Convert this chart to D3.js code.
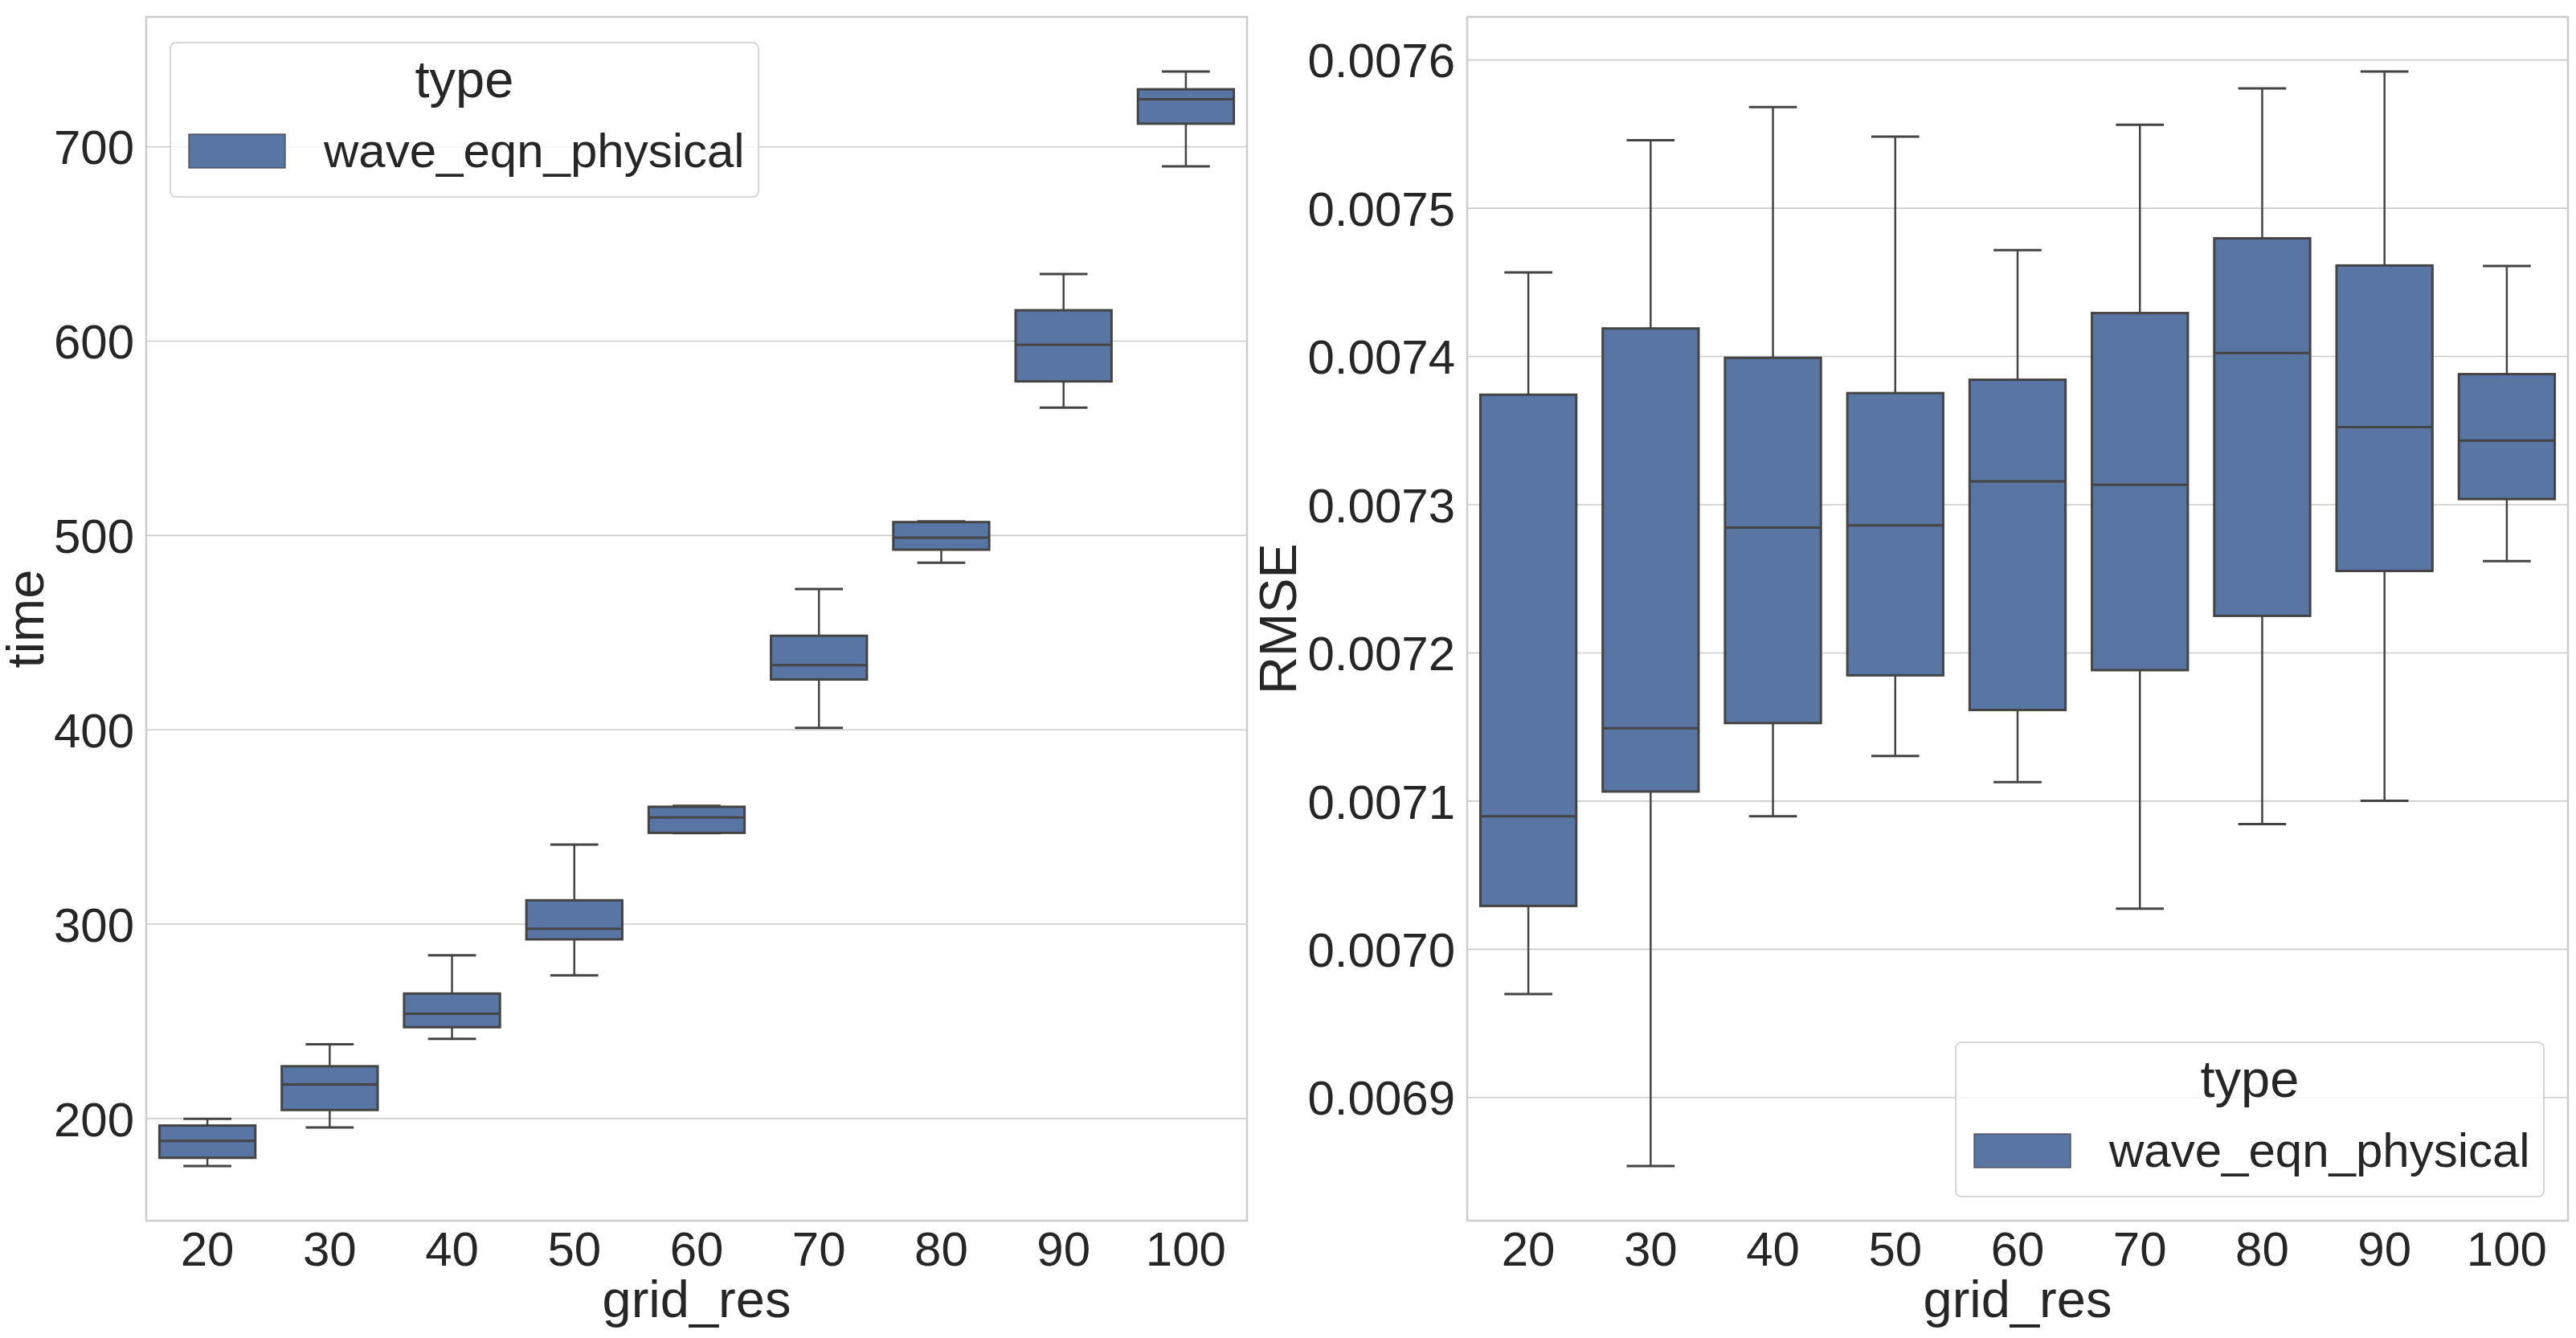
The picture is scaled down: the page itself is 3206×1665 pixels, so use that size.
<!DOCTYPE html>
<html>
<head>
<meta charset="utf-8">
<script src="https://cdnjs.cloudflare.com/ajax/libs/d3/7.8.5/d3.min.js"></script>
<style>
  body { margin: 0; background: #ffffff; }
  text { font-family: "Liberation Sans", Arial, sans-serif; fill: #262626; }
</style>
</head>
<body>
<div id="chart"></div>
<script>
// categories on the x axis
var gridRes = ["20", "30", "40", "50", "60", "70", "80", "90", "100"];

// time box stats (lower whisker, q1, median, q3, upper whisker)
var timeLow    = [175.4, 195.2, 240.8, 273.5, 346.6, 400.8, 485.8, 565.6, 689.7];
var timeQ1     = [179.6, 204.2, 246.8, 292.0, 346.8, 425.7, 492.5, 579.1, 711.7];
var timeMedian = [188.3, 217.3, 253.7, 297.4, 354.7, 433.1, 498.7, 598.0, 724.3];
var timeQ3     = [196.2, 226.7, 264.1, 312.1, 360.2, 448.2, 506.7, 615.7, 729.4];
var timeHigh   = [199.7, 238.0, 283.8, 340.8, 360.7, 472.2, 507.1, 634.3, 738.5];
var timeTicks  = [200, 300, 400, 500, 600, 700];

// RMSE box stats
var rmseLow    = [0.0069696, 0.0068536, 0.0070895, 0.0071302, 0.0071126, 0.0070272, 0.0070843, 0.0071000, 0.0072616];
var rmseQ1     = [0.0070290, 0.0071062, 0.0071524, 0.0071846, 0.0071612, 0.0071881, 0.0072247, 0.0072550, 0.0073035];
var rmseMedian = [0.0070895, 0.0071489, 0.0072843, 0.0072858, 0.0073154, 0.0073131, 0.0074020, 0.0073520, 0.0073430];
var rmseQ3     = [0.0073739, 0.0074186, 0.0073988, 0.0073750, 0.0073840, 0.0074290, 0.0074794, 0.0074611, 0.0073878];
var rmseHigh   = [0.0074564, 0.0075456, 0.0075680, 0.0075480, 0.0074715, 0.0075561, 0.0075805, 0.0075919, 0.0074607];
var rmseTicks  = [0.0069, 0.0070, 0.0071, 0.0072, 0.0073, 0.0074, 0.0075, 0.0076];

var seriesName = "wave_eqn_physical";
var legendTitle = "type";

// Chart Params
var svgWidth = 3206;
var svgHeight = 1665;
var boxFill = "#5875a4";
var boxLine = "#444444";
var gridColor = "#cccccc";

var svg = d3.select("#chart")
  .append("svg")
  .attr("width", svgWidth)
  .attr("height", svgHeight);

svg.append("rect")
  .attr("width", svgWidth)
  .attr("height", svgHeight)
  .attr("fill", "#ffffff");

function buildRows(low, q1, med, q3, high) {
  return gridRes.map(function(g, i) {
    return { grid_res: g, low: low[i], q1: q1[i], median: med[i], q3: q3[i], high: high[i] };
  });
}

// draws one panel (axes frame, grid, boxes, labels, legend)
function drawPanel(opts) {
  var width = opts.right - opts.left;
  var height = opts.bottom - opts.top;

  var g = svg.append("g")
    .attr("transform", `translate(${opts.left}, ${opts.top})`);

  var xBand = d3.scaleBand()
    .domain(gridRes)
    .range([0, width])
    .paddingInner(0)
    .paddingOuter(0);

  // matplotlib style 5% margin around the data
  var lo = d3.min(opts.rows, d => d.low);
  var hi = d3.max(opts.rows, d => d.high);
  var pad = (hi - lo) * 0.05;
  var yScale = d3.scaleLinear()
    .domain([lo - pad, hi + pad])
    .range([height, 0]);

  // horizontal grid
  var leftAxis = d3.axisLeft(yScale)
    .tickValues(opts.ticks)
    .tickSize(-width)
    .tickPadding(15)
    .tickFormat(opts.format);

  var yAxis = g.append("g").call(leftAxis);
  yAxis.select(".domain").remove();
  yAxis.selectAll(".tick line")
    .attr("stroke", gridColor)
    .attr("stroke-width", 1.6);
  yAxis.selectAll(".tick text")
    .style("font-size", "60px")
    .attr("fill", "#262626")
    .attr("dy", "0.36em");

  var bottomAxis = d3.axisBottom(xBand)
    .tickSize(0)
    .tickPadding(9);

  var xAxis = g.append("g")
    .attr("transform", `translate(0, ${height})`)
    .call(bottomAxis);
  xAxis.select(".domain").remove();
  xAxis.selectAll(".tick text")
    .style("font-size", "60px")
    .attr("fill", "#262626")
    .attr("dy", "0.78em");

  // frame
  g.append("rect")
    .attr("x", 0)
    .attr("y", 0)
    .attr("width", width)
    .attr("height", height)
    .attr("fill", "none")
    .attr("stroke", gridColor)
    .attr("stroke-width", 2.5);

  var bw = xBand.bandwidth() * 0.784;
  var boxes = g.selectAll(".box").data(opts.rows)
    .enter()
    .append("g")
    .attr("class", "box")
    .attr("transform", d => `translate(${xBand(d.grid_res) + xBand.bandwidth() / 2}, 0)`);

  // whiskers
  boxes.append("line")
    .attr("x1", 0).attr("x2", 0)
    .attr("y1", d => yScale(d.q3))
    .attr("y2", d => yScale(d.high))
    .attr("stroke", boxLine)
    .attr("stroke-width", 2.5);
  boxes.append("line")
    .attr("x1", 0).attr("x2", 0)
    .attr("y1", d => yScale(d.q1))
    .attr("y2", d => yScale(d.low))
    .attr("stroke", boxLine)
    .attr("stroke-width", 2.5);
  // caps
  boxes.append("line")
    .attr("x1", -bw / 4).attr("x2", bw / 4)
    .attr("y1", d => yScale(d.high))
    .attr("y2", d => yScale(d.high))
    .attr("stroke", boxLine)
    .attr("stroke-width", 3);
  boxes.append("line")
    .attr("x1", -bw / 4).attr("x2", bw / 4)
    .attr("y1", d => yScale(d.low))
    .attr("y2", d => yScale(d.low))
    .attr("stroke", boxLine)
    .attr("stroke-width", 3);

  boxes.append("rect")
    .attr("x", -bw / 2)
    .attr("width", bw)
    .attr("y", d => yScale(d.q3))
    .attr("height", d => yScale(d.q1) - yScale(d.q3))
    .attr("fill", boxFill)
    .attr("stroke", boxLine)
    .attr("stroke-width", 3);

  boxes.append("line")
    .attr("x1", -bw / 2).attr("x2", bw / 2)
    .attr("y1", d => yScale(d.median))
    .attr("y2", d => yScale(d.median))
    .attr("stroke", boxLine)
    .attr("stroke-width", 3);

  // axis labels
  g.append("text")
    .attr("x", width / 2)
    .attr("y", height + 120)
    .attr("text-anchor", "middle")
    .style("font-size", "65px")
    .text("grid_res");

  g.append("text")
    .attr("transform", "rotate(-90)")
    .attr("x", -height / 2)
    .attr("y", opts.ylabelY)
    .attr("text-anchor", "middle")
    .style("font-size", "65px")
    .text(opts.ylabel);

  // legend
  var lg = g.append("g")
    .attr("transform", `translate(${opts.legendX}, ${opts.legendY})`);
  lg.append("rect")
    .attr("width", 732)
    .attr("height", 192)
    .attr("rx", 7)
    .attr("fill", "#ffffff")
    .attr("fill-opacity", 0.8)
    .attr("stroke", gridColor)
    .attr("stroke-width", 1.6);
  lg.append("text")
    .attr("x", 366)
    .attr("y", 68)
    .attr("text-anchor", "middle")
    .style("font-size", "65px")
    .text(legendTitle);
  lg.append("rect")
    .attr("x", 23)
    .attr("y", 114)
    .attr("width", 120)
    .attr("height", 42)
    .attr("fill", boxFill)
    .attr("stroke", boxLine)
    .attr("stroke-width", 1.2);
  lg.append("text")
    .attr("x", 191)
    .attr("y", 155)
    .style("font-size", "60px")
    .text(seriesName);
}

drawPanel({
  left: 182, right: 1552, top: 21, bottom: 1519,
  rows: buildRows(timeLow, timeQ1, timeMedian, timeQ3, timeHigh),
  ticks: timeTicks,
  format: d3.format("d"),
  ylabel: "time",
  ylabelY: -128,
  legendX: 30, legendY: 32
});

drawPanel({
  left: 1826, right: 3196, top: 21, bottom: 1519,
  rows: buildRows(rmseLow, rmseQ1, rmseMedian, rmseQ3, rmseHigh),
  ticks: rmseTicks,
  format: d3.format(".4f"),
  ylabel: "RMSE",
  ylabelY: -213,
  legendX: 608, legendY: 1276
});
</script>
</body>
</html>
